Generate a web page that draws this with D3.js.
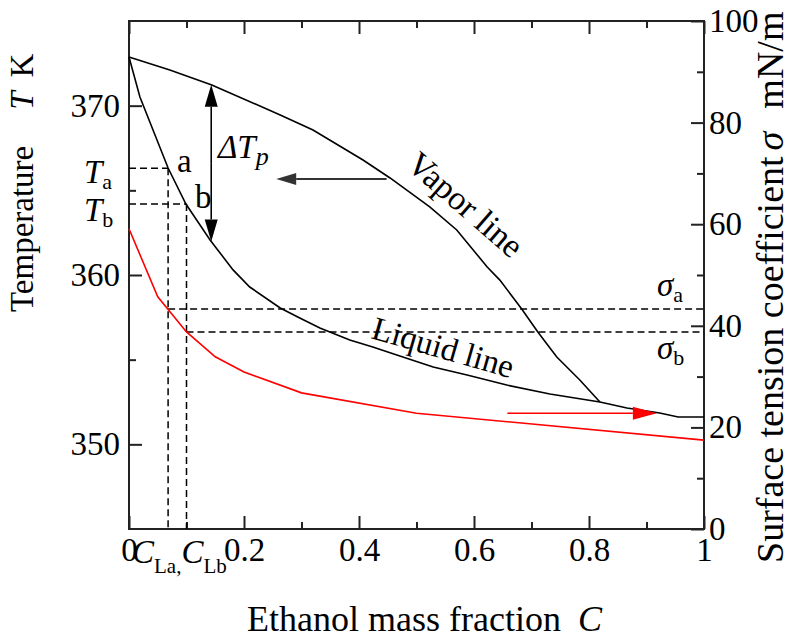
<!DOCTYPE html>
<html>
<head>
<meta charset="utf-8">
<script src="https://cdn.jsdelivr.net/npm/d3@7"></script>
<style>
  body { margin: 0; background: #fff; }
</style>
</head>
<body>
<svg id="chart" width="808" height="639"></svg>
<script>
// liquid line (boiling curve): C, T
const liquidC = [0, 0.019, 0.068, 0.099, 0.141, 0.181, 0.21, 0.263, 0.297, 0.332, 0.384, 0.424, 0.471, 0.529, 0.588, 0.657, 0.732, 0.819, 0.866, 0.923, 0.955, 1.0];
const liquidT = [372.87, 370.51, 366.32, 364.19, 362.07, 360.3, 359.29, 358.05, 357.46, 356.87, 356.16, 355.75, 355.22, 354.57, 354.09, 353.5, 352.97, 352.5, 352.15, 351.85, 351.61, 351.61];

// vapor line (dew curve)
const vaporC = [0, 0.071, 0.144, 0.263, 0.32, 0.407, 0.454, 0.523, 0.57, 0.623, 0.645, 0.683, 0.711, 0.744, 0.784, 0.819];
const vaporT = [372.87, 372.1, 371.22, 369.45, 368.56, 366.79, 365.73, 364.02, 362.66, 360.47, 359.7, 357.99, 356.63, 355.16, 353.8, 352.5];

// surface tension (red, right axis)
const sigmaC = [0, 0.05, 0.1, 0.15, 0.2, 0.3, 0.5, 1.0];
const sigmaV = [59.1, 45.7, 38.8, 33.9, 30.9, 26.8, 22.8, 17.5];

// marked states a and b
const cL = [0.068, 0.1];        // C_La, C_Lb
const tAB = [366.3, 364.2];     // T_a, T_b
const sAB = [43.3, 38.8];       // sigma_a, sigma_b

// arrows (data units)
const dTpC = 0.143;
const leftArrow = { t: 365.67, c0: 0.448, c1: 0.256 };
const redArrow = { s: 22.8, c0: 0.658, c1: 0.918 };

const xMajor = [0, 0.2, 0.4, 0.6, 0.8, 1];
const xMinor = [0.1, 0.3, 0.5, 0.7, 0.9];
const tMajor = [350, 360, 370];
const tMinor = [355, 365];
const sMajor = [0, 20, 40, 60, 80, 100];
const sMinor = [10, 30, 50, 70, 90];

const L = 129, R = 704, T = 21, B = 529;
const FONT = "Liberation Serif";
const svg = d3.select("#chart");

const x = d3.scaleLinear().domain([0, 1]).range([L, R]);
const yT = d3.scaleLinear().domain([345, 375]).range([B, T]);
const yS = d3.scaleLinear().domain([0, 100]).range([B, T]);

function styleAxis(g) {
  g.select(".domain").remove();
  g.attr("font-family", FONT).attr("font-size", 33);
  g.selectAll("line").attr("stroke", "#222").attr("stroke-width", 2);
  g.selectAll("text").attr("fill", "#000");
}

// bottom
svg.append("g").attr("transform", `translate(0,${B})`)
  .call(d3.axisBottom(x).tickValues(xMajor).tickSize(-13).tickPadding(9).tickFormat(d3.format("~g")))
  .call(styleAxis);
svg.append("g").attr("transform", `translate(0,${B})`)
  .call(d3.axisBottom(x).tickValues(xMinor).tickSize(-7).tickFormat(""))
  .call(styleAxis);
// top
svg.append("g").attr("transform", `translate(0,${T})`)
  .call(d3.axisTop(x).tickValues(xMajor).tickSize(-13).tickFormat(""))
  .call(styleAxis);
svg.append("g").attr("transform", `translate(0,${T})`)
  .call(d3.axisTop(x).tickValues(xMinor).tickSize(-7).tickFormat(""))
  .call(styleAxis);
// left
svg.append("g").attr("transform", `translate(${L},0)`)
  .call(d3.axisLeft(yT).tickValues(tMajor).tickSize(-13).tickPadding(9))
  .call(styleAxis);
svg.append("g").attr("transform", `translate(${L},0)`)
  .call(d3.axisLeft(yT).tickValues(tMinor).tickSize(-7).tickFormat(""))
  .call(styleAxis);
// right
svg.append("g").attr("transform", `translate(${R},0)`)
  .call(d3.axisRight(yS).tickValues(sMajor).tickSize(-13).tickPadding(5))
  .call(styleAxis);
svg.append("g").attr("transform", `translate(${R},0)`)
  .call(d3.axisRight(yS).tickValues(sMinor).tickSize(-7).tickFormat(""))
  .call(styleAxis);

svg.append("rect")
  .attr("x", L).attr("y", T).attr("width", R - L).attr("height", B - T)
  .attr("fill", "none").attr("stroke", "#222").attr("stroke-width", 2);

// dashed guides
const guides = [
  [x(0), yT(tAB[0]), x(cL[0]), yT(tAB[0])],
  [x(0), yT(tAB[1]), x(cL[1]), yT(tAB[1])],
  [x(cL[0]), yT(tAB[0]), x(cL[0]), B],
  [x(cL[1]), yT(tAB[1]), x(cL[1]), B],
  [x(cL[0]), yS(sAB[0]), R, yS(sAB[0])],
  [x(cL[1]), yS(sAB[1]), R, yS(sAB[1])]
];
svg.append("g").selectAll("line").data(guides).join("line")
  .attr("x1", d => d[0]).attr("y1", d => d[1])
  .attr("x2", d => d[2]).attr("y2", d => d[3])
  .attr("stroke", "#000").attr("stroke-width", 1.5).attr("stroke-dasharray", "7,4");

// curves
const lineT = d3.line().x(d => x(d[0])).y(d => yT(d[1]));
const lineS = d3.line().x(d => x(d[0])).y(d => yS(d[1]));

svg.append("path").datum(d3.zip(liquidC, liquidT)).attr("d", lineT)
  .attr("fill", "none").attr("stroke", "#000").attr("stroke-width", 1.6);
svg.append("path").datum(d3.zip(vaporC, vaporT)).attr("d", lineT)
  .attr("fill", "none").attr("stroke", "#000").attr("stroke-width", 1.6);
svg.append("path").datum(d3.zip(sigmaC, sigmaV)).attr("d", lineS)
  .attr("fill", "none").attr("stroke", "#f00").attr("stroke-width", 1.6);

// arrows
function arrow(x1, y1, x2, y2, color, w, headLen, headW) {
  const dx = x2 - x1, dy = y2 - y1, len = Math.hypot(dx, dy);
  const ux = dx / len, uy = dy / len;
  const bx = x2 - ux * headLen, by = y2 - uy * headLen;
  svg.append("line").attr("x1", x1).attr("y1", y1).attr("x2", bx).attr("y2", by)
    .attr("stroke", color).attr("stroke-width", w);
  svg.append("path")
    .attr("d", `M${x2},${y2}L${bx - uy * headW / 2},${by + ux * headW / 2}L${bx + uy * headW / 2},${by - ux * headW / 2}Z`)
    .attr("fill", color);
}
const interp = (cs, vs, c) => {
  const i = d3.bisectLeft(cs, c);
  const t = (c - cs[i - 1]) / (cs[i] - cs[i - 1]);
  return vs[i - 1] + t * (vs[i] - vs[i - 1]);
};
const ax = x(dTpC), ayTop = yT(interp(vaporC, vaporT, dTpC)), ayBot = yT(interp(liquidC, liquidT, dTpC));
const amid = (ayTop + ayBot) / 2;
arrow(ax, amid, ax, ayTop, "#000", 1.6, 22, 13);
arrow(ax, amid, ax, ayBot, "#000", 1.6, 22, 13);
arrow(x(leftArrow.c0), yT(leftArrow.t), x(leftArrow.c1), yT(leftArrow.t), "#333", 2, 20, 12);
arrow(x(redArrow.c0), yS(redArrow.s), x(redArrow.c1), yS(redArrow.s), "#f00", 1.6, 24, 13);

// annotation text
const ann = svg.append("g").attr("font-size", 33);

const dTp = ann.append("text").attr("x", 218).attr("y", 158);
dTp.append("tspan").attr("font-style", "italic").text("ΔT");
dTp.append("tspan").attr("font-style", "italic").attr("font-size", 26).attr("dy", 7).text("p");

ann.append("text").attr("x", 177).attr("y", 172).text("a");
ann.append("text").attr("x", 195).attr("y", 208).text("b");

function subLabel(px, py, main, sub) {
  const t = ann.append("text").attr("x", px).attr("y", py);
  t.append("tspan").attr("font-style", "italic").text(main);
  t.append("tspan").attr("font-size", 22).attr("dy", 6).text(sub);
}
subLabel(84, 183, "T", "a");
subLabel(84, 221, "T", "b");
subLabel(657, 296, "σ", "a");
subLabel(657, 359, "σ", "b");

const cLab = ann.append("text").attr("x", 132).attr("y", 563);
cLab.append("tspan").attr("font-style", "italic").text("C");
cLab.append("tspan").attr("font-size", 21).attr("dy", 10).text("La,");
cLab.append("tspan").attr("font-style", "italic").attr("dy", -10).text("C");
cLab.append("tspan").attr("font-size", 21).attr("dy", 10).text("Lb");

ann.append("text").attr("font-size", 34).attr("transform", "translate(405,167) rotate(41)").text("Vapor line");
ann.append("text").attr("transform", "translate(370,338) rotate(16)").text("Liquid line");

// axis titles
const xt = svg.append("text").attr("font-size", 36).attr("x", 247).attr("y", 631);
xt.append("tspan").text("Ethanol mass fraction");
xt.append("tspan").attr("font-style", "italic").attr("dx", 17).text("C");

const lt = svg.append("text").attr("font-size", 33)
  .attr("transform", "translate(33,312) rotate(-90)");
lt.append("tspan").text("Temperature");
lt.append("tspan").attr("font-style", "italic").attr("dx", 36).text("T");
lt.append("tspan").attr("dx", 14).text("K");

const rt = svg.append("text").attr("font-size", 38)
  .attr("transform", "translate(783,563) rotate(-90)");
rt.append("tspan").text("Surface tension coefficient");
rt.append("tspan").attr("font-style", "italic").attr("dx", 6).text("σ");
rt.append("tspan").attr("dx", 23).text("mN/m");

svg.selectAll("text").attr("font-family", FONT).attr("fill", "#000");
</script>
</body>
</html>
